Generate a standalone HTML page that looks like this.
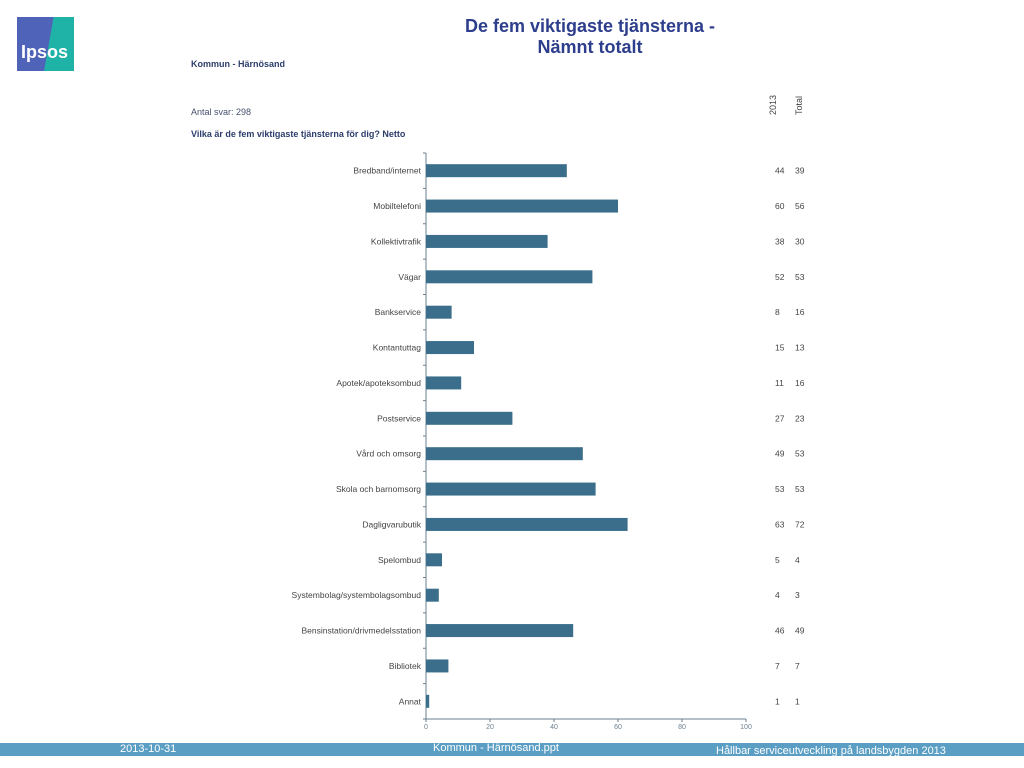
<!DOCTYPE html>
<html><head><meta charset="utf-8"><style>
body{margin:0;width:1024px;height:768px;position:relative;background:#fff;font-family:"Liberation Sans",sans-serif;overflow:hidden}
.t{position:absolute;white-space:nowrap}
</style></head><body>
<div style="position:absolute;left:17px;top:17px;width:57px;height:54px;background:linear-gradient(100deg,#4f63b8 0 55%,#1fb3a8 55%);">
<div class="t" style="left:4px;top:25px;color:#fff;font-size:18px;font-weight:bold">Ipsos</div></div>
<div class="t" style="left:440px;top:16px;width:300px;text-align:center;color:#2d3e8c;font-size:18px;font-weight:bold;line-height:21px">De fem viktigaste tjänsterna -<br>Nämnt totalt</div>
<div class="t" style="left:191px;top:59px;font-size:9px;font-weight:bold;color:#2d3e6c">Kommun - Härnösand</div>
<div class="t" style="left:191px;top:107px;font-size:9px;color:#44506c">Antal svar: 298</div>
<div class="t" style="left:191px;top:129px;font-size:9px;font-weight:bold;color:#2d3e6c">Vilka är de fem viktigaste tjänsterna för dig? Netto</div>
<div class="t" style="left:768px;top:97px;font-size:9px;color:#444;transform:rotate(-90deg);transform-origin:left top;top:115px">2013</div>
<div class="t" style="left:794px;top:115px;font-size:9px;color:#444;transform:rotate(-90deg);transform-origin:left top">Total</div>
<svg id="chart" width="1024" height="768" style="position:absolute;left:0;top:0" font-family="Liberation Sans, sans-serif"></svg>
<div style="position:absolute;left:0;top:743px;width:1024px;height:13px;background:#5b9ec4"></div>
<div class="t" style="left:120px;top:743px;font-size:11px;color:#fff;line-height:13px">2013-10-31</div>
<div class="t" style="left:433px;top:742px;font-size:11px;color:#fff;line-height:13px">Kommun - Härnösand.ppt</div>
<div class="t" style="left:716px;top:745px;font-size:11px;color:#fff;line-height:13px">Hållbar serviceutveckling på landsbygden 2013</div>
<script>
const categories=["Bredband/internet","Mobiltelefoni","Kollektivtrafik","Vägar","Bankservice","Kontantuttag","Apotek/apoteksombud","Postservice","Vård och omsorg","Skola och barnomsorg","Dagligvarubutik","Spelombud","Systembolag/systembolagsombud","Bensinstation/drivmedelsstation","Bibliotek","Annat"];
const values2013=[44,60,38,52,8,15,11,27,49,53,63,5,4,46,7,1];
const valuesTotal=[39,56,30,53,16,13,16,23,53,53,72,4,3,49,7,1];
const xTicks=[0,20,40,60,80,100];
const svg=document.getElementById('chart');
const NS='http://www.w3.org/2000/svg';
const x0=426,x1=746,yTop=153,yBot=719;
const x=v=>x0+(v/100)*(x1-x0);
const step=(yBot-yTop)/categories.length;
const y=i=>yTop+step*(i+0.5);
function mk(t,a){const e=document.createElementNS(NS,t);for(const k in a)e.setAttribute(k,a[k]);svg.appendChild(e);return e;}
let ax=mk('line',{x1:x0,y1:yTop,x2:x0,y2:yBot,stroke:'#6a8090'});


let bx=mk('line',{x1:x0,y1:yBot,x2:x1,y2:yBot,stroke:'#6a8090'});


for(let i=0;i<=categories.length;i++){
  const tk=mk('line',{x1:x0-3,x2:x0,y1:yTop+step*i,y2:yTop+step*i,stroke:'#6a8090'});
  
  
}
xTicks.forEach(v=>{
  const tk=mk('line',{x1:x(v),x2:x(v),y1:yBot,y2:yBot+3,stroke:'#6a8090'});
  
  
  const tl=mk('text',{x:x(v),y:yBot+10,'font-size':7,fill:'#6a8090','text-anchor':'middle'});
  tl.textContent=v;
  
  
});
categories.forEach((c,i)=>{
  const yc=y(i);
  const b=mk('rect',{x:x0,y:yc-6.5,width:x(values2013[i])-x0,height:13,fill:'#3a6e8a'});
  
  
  const l=mk('text',{x:x0-5,y:yc+3,'font-size':8.5,fill:'#444','text-anchor':'end'});
  l.textContent=c;
  
  
  const a=mk('text',{x:775,y:yc+3,'font-size':8.5,fill:'#444'});
  a.textContent=values2013[i];
  
  
  const t=mk('text',{x:795,y:yc+3,'font-size':8.5,fill:'#444'});
  t.textContent=valuesTotal[i];
  
  
});
</script>
</body></html>
